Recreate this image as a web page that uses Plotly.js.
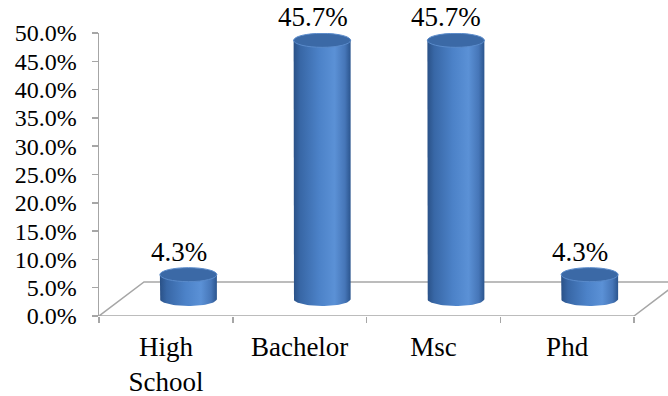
<!DOCTYPE html>
<html>
<head>
<meta charset="utf-8">
<script src="https://cdn.plot.ly/plotly-3.0.1.min.js"></script>
<style>
  html, body { margin: 0; padding: 0; background: #ffffff; }
  #chart { width: 668px; height: 396px; }
</style>
</head>
<body>
<div id="chart"></div>
<script>
// Education level shares (%)
const categories = ['High School', 'Bachelor', 'Msc', 'Phd'];
const shares = [4.3, 45.7, 45.7, 4.3];
const valueTicks = [0, 5, 10, 15, 20, 25, 30, 35, 40, 45, 50];

const SERIF = '"Liberation Serif", "Times New Roman", Times, serif';

// Frame geometry (pixels)
const W = 668, H = 396;
const M = { l: 99, r: 0, t: 33, b: 80 };
const plotW = W - M.l - M.r;
const plotH = H - M.t - M.b;
const catPx = 133.75;                    // pixels per category slot
const yMax = 50;
const xMin = -0.5;
const xMax = xMin + plotW / catPx;
const pxX = v => v / catPx;              // pixels -> x units
const pxY = v => v * yMax / plotH;       // pixels -> y units

// 3D floor depth and cylinder size
const depthX = pxX(45), depthY = pxY(34);
const rX = pxX(28.5), rY = pxY(7);
const baseY = depthY / 2;

const bodyScale = [
  [0, '#2a5187'], [0.12, '#3867a6'], [0.45, '#4c82c8'],
  [0.72, '#5b91d6'], [0.9, '#4676b8'], [1, '#2b558e']
];

const traces = [];
const shapes = [];

// floor (parallelogram in data space)
const x0 = xMin, x1 = categories.length - 0.5;
shapes.push({
  type: 'path', xref: 'x', yref: 'y', layer: 'below',
  path: `M${x0},0 L${x1},0 L${x1 + depthX},${depthY} L${x0 + depthX},${depthY} Z`,
  line: { color: '#a6a6a6', width: 1.5 }, fillcolor: 'rgba(0,0,0,0)'
});

const annotations = [];
shares.forEach((v, i) => {
  const cx = i + depthX / 2;
  const top = baseY + v;
  const xs = [cx - rX, cx - rX];
  const ys = [top, baseY];
  const n = 40;
  for (let k = 0; k <= n; k++) {
    const t = Math.PI + Math.PI * k / n;
    xs.push(cx + rX * Math.cos(t));
    ys.push(baseY + rY * Math.sin(t));
  }
  xs.push(cx + rX); ys.push(top);
  traces.push({
    type: 'scatter', mode: 'lines', x: xs, y: ys,
    fill: 'toself', line: { width: 0, color: 'rgba(0,0,0,0)' },
    fillgradient: { type: 'horizontal', colorscale: bodyScale },
    hoverinfo: 'skip', showlegend: false
  });
  // top cap
  shapes.push({
    type: 'circle', xref: 'x', yref: 'y', layer: 'above',
    x0: cx - rX, x1: cx + rX, y0: top - rY, y1: top + rY,
    fillcolor: '#3b69a6', line: { color: '#5a8bcb', width: 1 }
  });
  annotations.push({
    x: i, y: top + rY, xref: 'x', yref: 'y',
    xshift: 13, yshift: -1, yanchor: 'bottom', showarrow: false,
    text: v.toFixed(1) + '%',
    font: { family: SERIF, size: 27, color: '#000000' }
  });
});

const layout = {
  width: W, height: H,
  margin: M,
  paper_bgcolor: '#ffffff', plot_bgcolor: 'rgba(0,0,0,0)',
  showlegend: false,
  font: { family: SERIF, color: '#000000' },
  xaxis: {
    type: 'linear', range: [xMin, xMax], fixedrange: true,
    showgrid: false, zeroline: false, showline: false,
    tickvals: categories.map((c, i) => i),
    ticktext: categories.map(c => c.replace(' ', '<br>')),
    ticks: '', ticklabelstandoff: 12,
    tickfont: { family: SERIF, size: 27, color: '#000000' },
    minor: {
      tickvals: categories.map((c, i) => i - 0.5).concat([categories.length - 0.5]),
      ticks: 'outside', ticklen: 6, tickcolor: '#a6a6a6', tickwidth: 1.5, showgrid: false
    }
  },
  yaxis: {
    range: [0, yMax], fixedrange: true,
    tickvals: valueTicks, ticktext: valueTicks.map(t => t.toFixed(1) + '%'),
    showgrid: false, zeroline: false,
    showline: true, linecolor: '#a6a6a6', linewidth: 1.5,
    ticks: 'outside', ticklen: 6, tickcolor: '#a6a6a6', tickwidth: 1.5,
    ticklabelstandoff: 10,
    tickfont: { family: SERIF, size: 24, color: '#000000' }
  },
  shapes: shapes,
  annotations: annotations
};

Plotly.newPlot('chart', traces, layout, { staticPlot: true, displayModeBar: false });
</script>
</body>
</html>
